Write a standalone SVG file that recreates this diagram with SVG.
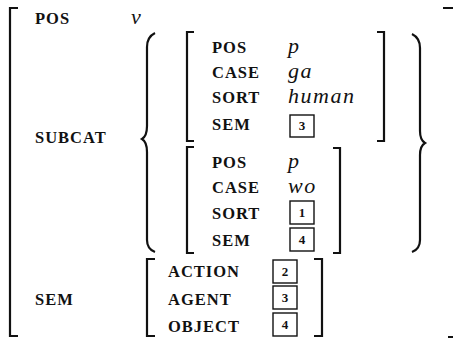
<svg xmlns="http://www.w3.org/2000/svg" width="456" height="341" viewBox="0 0 456 341">
<style>
.l{font-family:"Liberation Serif","Times New Roman",serif;font-size:16.5px;font-weight:bold;letter-spacing:1px;fill:#111}
.v{font-family:"Liberation Serif","Times New Roman",serif;font-style:italic;font-size:22px;letter-spacing:1.5px;fill:#111}
.n{font-family:"Liberation Serif",serif;font-size:13px;font-weight:bold;fill:#111;text-anchor:middle}
.b{fill:none;stroke:#111;stroke-width:2.2}
.bx{fill:#fff;stroke:#111;stroke-width:1.4}
</style>
<rect width="456" height="341" fill="#fff"/>
<path class="b" d="M18,8 H10 V336 H18"/>
<path class="b" d="M443,8 H453 M448,337 H453"/>
<text class="l" x="35" y="24">POS</text>
<text class="v" x="131" y="24">v</text>
<text class="l" x="35" y="143">SUBCAT</text>
<text class="l" x="35" y="305">SEM</text>
<path class="b" d="M155,33 Q147,37 147,47 V126 Q147,136 142,139 Q147,142 147,152 V240 Q147,249 155,252"/>
<path class="b" d="M412,34 Q420,38 420,48 V131 Q420,140 425,143 Q420,146 420,155 V240 Q420,249 412,252"/>
<g id="inner1">
<path class="b" d="M194,32 H187 V141 H194"/>
<path class="b" d="M377,32 H384 V141 H377"/>
<text class="l" x="212" y="53">POS</text><text class="v" x="288" y="53">p</text>
<text class="l" x="212" y="78">CASE</text><text class="v" x="288" y="78">ga</text>
<text class="l" x="212" y="103">SORT</text><text class="v" x="288" y="103">human</text>
<text class="l" x="212" y="130">SEM</text>
<rect class="bx" x="290" y="115" width="24" height="22"/><text class="n" x="302" y="130">3</text>
</g>
<g id="inner2">
<path class="b" d="M194,147 H187 V253 H194"/>
<path class="b" d="M333,148 H340 V253 H333"/>
<text class="l" x="212" y="168">POS</text><text class="v" x="288" y="168">p</text>
<text class="l" x="212" y="193">CASE</text><text class="v" x="288" y="193">wo</text>
<text class="l" x="212" y="219">SORT</text>
<rect class="bx" x="290" y="201" width="24" height="23"/><text class="n" x="302" y="217">1</text>
<text class="l" x="212" y="246">SEM</text>
<rect class="bx" x="290" y="228" width="24" height="23"/><text class="n" x="302" y="244">4</text>
</g>
<g id="sem">
<path class="b" d="M155,259 H147 V336 H155"/>
<path class="b" d="M314,259 H322 V336 H314"/>
<text class="l" x="168" y="277">ACTION</text>
<rect class="bx" x="273" y="260" width="24" height="23"/><text class="n" x="285" y="276">2</text>
<text class="l" x="168" y="305">AGENT</text>
<rect class="bx" x="273" y="286" width="24" height="23"/><text class="n" x="285" y="302">3</text>
<text class="l" x="168" y="332">OBJECT</text>
<rect class="bx" x="273" y="313" width="24" height="23"/><text class="n" x="285" y="329">4</text>
</g>
</svg>
